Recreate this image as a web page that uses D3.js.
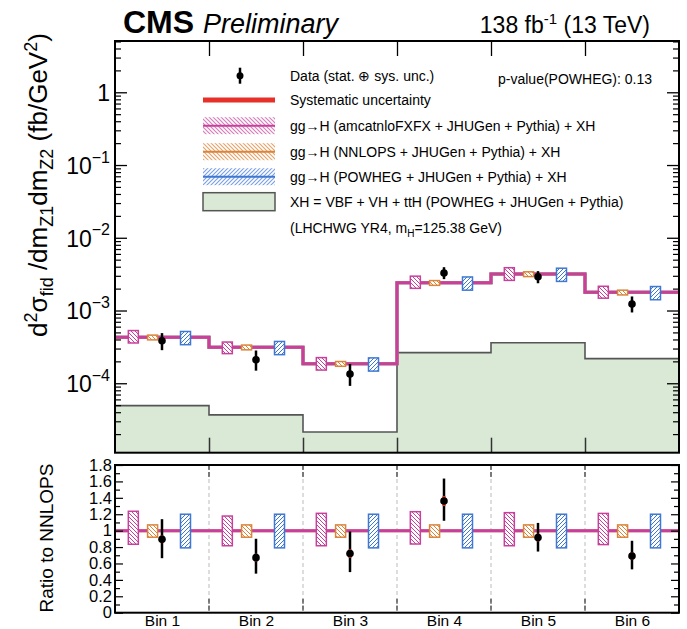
<!DOCTYPE html>
<html><head><meta charset="utf-8">
<script src="https://cdn.jsdelivr.net/npm/d3@7"></script>
<style>
body{margin:0;background:#fff}
svg{font-family:"Liberation Sans",Arial,Helvetica,sans-serif}
</style>
</head><body>
<svg id="chart" width="687" height="629"></svg>
<script>
// Bin labels
const bins = ["Bin 1", "Bin 2", "Bin 3", "Bin 4", "Bin 5", "Bin 6"];
// gg->H (NNLOPS) + XH prediction, fb/GeV^2
const nnlops = [4.29e-4, 3.13e-4, 1.86e-4, 2.41e-3, 3.18e-3, 1.78e-3];
// other generators relative to NNLOPS
const amcRatio = [1.0, 1.0, 1.0, 1.0, 1.0, 1.0];
const powhegRatio = [1.0, 1.0, 1.0, 1.0, 1.0, 1.0];
// relative theory uncertainties
const amcUp = [1.236, 1.178, 1.211, 1.231, 1.219, 1.21];
const amcDown = [0.834, 0.816, 0.816, 0.837, 0.816, 0.83];
const nnlopsUp = [1.07, 1.07, 1.07, 1.07, 1.07, 1.07];
const nnlopsDown = [0.92, 0.92, 0.92, 0.92, 0.92, 0.92];
const powhegUp = [1.20, 1.20, 1.20, 1.20, 1.20, 1.20];
const powhegDown = [0.79, 0.79, 0.79, 0.79, 0.79, 0.79];
// XH = VBF + VH + ttH
const xh = [4.92e-5, 3.67e-5, 2.14e-5, 2.64e-4, 3.61e-4, 2.18e-4];
// measured data
const data = [3.84e-4, 2.10e-4, 1.34e-4, 3.28e-3, 2.91e-3, 1.23e-3];
const dataErrUp = [1.05e-4, 0.72e-4, 0.50e-4, 0.66e-3, 0.57e-3, 0.33e-3];
const dataErrDown = [0.99e-4, 0.61e-4, 0.42e-4, 0.58e-3, 0.54e-3, 0.29e-3];
const dataSys = [0.20e-4, 0.15e-4, 0.10e-4, 0.15e-3, 0.15e-3, 0.08e-3];
// axis ticks
const yMajor = [1e-4, 1e-3, 1e-2, 1e-1, 1];
const yMajorLabels = [["10", "\u22124"], ["10", "\u22123"], ["10", "\u22122"], ["10", "\u22121"], ["1", ""]];
const ratioTicks = [0, 0.2, 0.4, 0.6, 0.8, 1, 1.2, 1.4, 1.6, 1.8];
const ratioLabels = ["0", "0.2", "0.4", "0.6", "0.8", "1", "1.2", "1.4", "1.6", "1.8"];

const svg = d3.select("#chart");
const L = 115, R = 679, T1 = 41, B1 = 452.7, T2 = 465, B2 = 612.7;

const x = d3.scaleLinear().domain([0, 6]).range([L, R]);
const y = d3.scaleLog().domain([1.11e-5, 5.07]).range([B1, T1]);
const yr = d3.scaleLinear().domain([0, 1.8]).range([B2, T2]);

const C = {
  amc: "#c7419c", amcL: "#d77ebd",
  nn: "#d9853b", nnL: "#e2a66f",
  pw: "#3f78d0", pwL: "#7ca2e0",
  red: "#e7302a", xhFill: "#d9e9d6", xhLine: "#555"
};

// hatch patterns
const defs = svg.append("defs");
function hatch(id, color, dir, w) {
  const p = defs.append("pattern").attr("id", id).attr("patternUnits", "userSpaceOnUse")
    .attr("width", 4).attr("height", 4);
  p.append("rect").attr("width", 4).attr("height", 4).attr("fill", "#fff");
  const d = dir === "\\" ? "M-1,-1L5,5M-1,3L1,5M3,-1L5,1" : "M-1,5L5,-1M-1,1L1,-1M3,5L5,3";
  p.append("path").attr("d", d).attr("stroke", color).attr("stroke-width", w);
}
hatch("hAmc", C.amc, "\\", 1);
hatch("hNn", C.nn, "\\", 1);
hatch("hPw", C.pw, "/", 1);
hatch("hAmcL", C.amcL, "\\", 1.2);
hatch("hNnL", C.nnL, "\\", 1.2);
hatch("hPwL", C.pwL, "/", 1.2);

const idx = d3.range(6);

// ---------- upper panel ----------
const upper = svg.append("g");
// XH filled histogram
const xhPts = [];
idx.forEach(i => { xhPts.push([x(i), y(xh[i])]); xhPts.push([x(i + 1), y(xh[i])]); });
const areaPath = "M" + x(0) + "," + B1 + "L" + xhPts.map(p => p.join(",")).join("L") + "L" + x(6) + "," + B1 + "Z";
upper.append("path").attr("d", areaPath).attr("fill", C.xhFill);
upper.append("path").attr("d", "M" + x(0) + "," + y(xh[0]) + "L" + xhPts.map(p => p.join(",")).join("L") + "L" + x(6) + "," + B1)
  .attr("fill", "none").attr("stroke", C.xhLine).attr("stroke-width", 1.6);

function stepPath(vals) {
  let pts = [];
  idx.forEach(i => { pts.push([x(i), y(vals[i])]); pts.push([x(i + 1), y(vals[i])]); });
  return "M" + pts.map(p => p.join(",")).join("L");
}
upper.append("path").attr("d", stepPath(idx.map(i => nnlops[i] * powhegRatio[i]))).attr("fill", "none").attr("stroke", C.pw).attr("stroke-width", 3);
upper.append("path").attr("d", stepPath(nnlops)).attr("fill", "none").attr("stroke", C.nn).attr("stroke-width", 3);
upper.append("path").attr("d", stepPath(idx.map(i => nnlops[i] * amcRatio[i]))).attr("fill", "none").attr("stroke", C.amc).attr("stroke-width", 3);

const boxW = 10;
const gens = [
  {off: 0.195, ratio: amcRatio, up: amcUp, dn: amcDown, col: C.amc, pat: "hAmc"},
  {off: 0.40, ratio: nnlops.map(() => 1), up: nnlopsUp, dn: nnlopsDown, col: C.nn, pat: "hNn"},
  {off: 0.75, ratio: powhegRatio, up: powhegUp, dn: powhegDown, col: C.pw, pat: "hPw"}
];
gens.forEach(g => {
  idx.forEach(i => {
    const c = nnlops[i] * g.ratio[i];
    const y0 = y(c * g.up[i]), y1 = y(c * g.dn[i]);
    upper.append("rect").attr("x", x(i + g.off) - boxW / 2).attr("y", y0).attr("width", boxW).attr("height", y1 - y0)
      .attr("fill", "url(#" + g.pat + ")").attr("stroke", g.col).attr("stroke-width", 1.5);
  });
});

// data points
idx.forEach(i => {
  const cx = x(i + 0.5);
  upper.append("line").attr("x1", cx).attr("x2", cx).attr("y1", y(data[i] + dataErrUp[i])).attr("y2", y(data[i] - dataErrDown[i]))
    .attr("stroke", "#000").attr("stroke-width", 2.5);
  upper.append("line").attr("x1", cx).attr("x2", cx).attr("y1", y(data[i] + dataSys[i])).attr("y2", y(data[i] - dataSys[i]))
    .attr("stroke", C.red).attr("stroke-width", 2.5);
  upper.append("circle").attr("cx", cx).attr("cy", y(data[i])).attr("r", 3.8).attr("fill", "#000");
});

// axes of the upper panel
const minor = [];
for (let e = -5; e <= 0; e++) for (let m = 2; m <= 9; m++) { const v = m * Math.pow(10, e); if (v > y.domain()[0] && v < y.domain()[1]) minor.push(v); }
const axL = upper.append("g").attr("transform", `translate(${L},0)`)
  .call(d3.axisLeft(y).tickValues(yMajor).tickSizeInner(-12).tickSizeOuter(0).tickPadding(5).tickFormat(""));
axL.select(".domain").remove();
axL.selectAll(".tick line").attr("stroke-width", 1.3);
axL.selectAll(".tick text").each(function (d, k) {
  const t = d3.select(this).attr("font-size", 23).attr("fill", "#000").attr("dy", "0.36em");
  const lab = yMajorLabels[k];
  t.append("tspan").text(lab[0]);
  if (lab[1]) t.append("tspan").attr("font-size", 16).attr("dy", "-0.7em").text(lab[1]);
});
upper.append("g").attr("transform", `translate(${L},0)`)
  .call(d3.axisLeft(y).tickValues(minor).tickSizeInner(-6).tickSizeOuter(0).tickFormat(""))
  .call(g => g.select(".domain").remove()).selectAll("line").attr("stroke-width", 1.2);
upper.append("g").attr("transform", `translate(${R},0)`)
  .call(d3.axisRight(y).tickValues(yMajor).tickSizeInner(-12).tickSizeOuter(0).tickFormat(""))
  .call(g => g.select(".domain").remove()).selectAll("line").attr("stroke-width", 1.3);
upper.append("g").attr("transform", `translate(${R},0)`)
  .call(d3.axisRight(y).tickValues(minor).tickSizeInner(-6).tickSizeOuter(0).tickFormat(""))
  .call(g => g.select(".domain").remove()).selectAll("line").attr("stroke-width", 1.2);
// bin-edge ticks
const edges = [1, 2, 3, 4, 5];
upper.append("g").attr("transform", `translate(0,${T1})`)
  .call(d3.axisTop(x).tickValues(edges).tickSizeInner(-15).tickSizeOuter(0).tickFormat(""))
  .call(g => g.select(".domain").remove()).selectAll("line").attr("stroke-width", 1.3);
upper.append("g").attr("transform", `translate(0,${B1})`)
  .call(d3.axisBottom(x).tickValues(edges).tickSizeInner(-15).tickSizeOuter(0).tickFormat(""))
  .call(g => g.select(".domain").remove()).selectAll("line").attr("stroke", "#333").attr("stroke-width", 1.5);
upper.append("rect").attr("x", L).attr("y", T1).attr("width", R - L).attr("height", B1 - T1)
  .attr("fill", "none").attr("stroke", "#000").attr("stroke-width", 2);

// legend
const lg = svg.append("g").attr("font-size", 14).attr("fill", "#000");
const lx0 = 203, lx1 = 275, tx = 290;
const rows = [75.7, 100, 125.7, 151.7, 176.7, 201.7, 227.7];
const lc = (lx0 + lx1) / 2 + 1;
lg.append("line").attr("x1", lc).attr("x2", lc).attr("y1", rows[0] - 8).attr("y2", rows[0] + 8).attr("stroke", "#000").attr("stroke-width", 2.5);
lg.append("circle").attr("cx", lc).attr("cy", rows[0]).attr("r", 3.5);
lg.append("line").attr("x1", lx0).attr("x2", lx1).attr("y1", rows[1]).attr("y2", rows[1]).attr("stroke", C.red).attr("stroke-width", 5);
[["hAmcL", C.amc], ["hNnL", C.nn], ["hPwL", C.pw]].forEach((p, k) => {
  const cy = rows[2 + k];
  lg.append("rect").attr("x", lx0).attr("y", cy - 8.5).attr("width", lx1 - lx0).attr("height", 17).attr("fill", "url(#" + p[0] + ")");
  lg.append("line").attr("x1", lx0).attr("x2", lx1).attr("y1", cy).attr("y2", cy).attr("stroke", p[1]).attr("stroke-width", 2);
});
lg.append("rect").attr("x", lx0).attr("y", rows[5] - 9).attr("width", lx1 - lx0).attr("height", 18)
  .attr("fill", C.xhFill).attr("stroke", C.xhLine).attr("stroke-width", 1.5);
const texts = [
  "Data (stat. \u2295 sys. unc.)",
  "Systematic uncertainty",
  "gg\u2192H (amcatnloFXFX + JHUGen + Pythia) + XH",
  "gg\u2192H (NNLOPS + JHUGen + Pythia) + XH",
  "gg\u2192H (POWHEG + JHUGen + Pythia) + XH",
  "XH = VBF + VH + ttH (POWHEG + JHUGen + Pythia)"
];
texts.forEach((t, k) => lg.append("text").attr("x", tx).attr("y", rows[k] + 5).text(t));
const lt = lg.append("text").attr("x", tx).attr("y", rows[6] + 5);
lt.append("tspan").text("(LHCHWG YR4, m");
lt.append("tspan").attr("font-size", 10).attr("dy", 4).text("H");
lt.append("tspan").attr("dy", -4).text("=125.38 GeV)");
lg.append("text").attr("x", 498).attr("y", 84).text("p-value(POWHEG): 0.13");

// ---------- ratio panel ----------
const lower = svg.append("g");
edges.forEach(e => {
  lower.append("line").attr("x1", x(e)).attr("x2", x(e)).attr("y1", T2).attr("y2", B2)
    .attr("stroke", "#bbb").attr("stroke-width", 1).attr("stroke-dasharray", "4,3");
  [[T2, T2 + 14], [B2 - 14, B2]].forEach(s => lower.append("line").attr("x1", x(e)).attr("x2", x(e)).attr("y1", s[0]).attr("y2", s[1])
    .attr("stroke", "#444").attr("stroke-width", 1.3).attr("stroke-dasharray", "5,2"));
});
lower.append("line").attr("x1", L).attr("x2", R).attr("y1", yr(1)).attr("y2", yr(1)).attr("stroke", C.nn).attr("stroke-width", 3);
function ratioStep(r) {
  let pts = [];
  idx.forEach(i => { pts.push([x(i), yr(r[i])]); pts.push([x(i + 1), yr(r[i])]); });
  return "M" + pts.map(p => p.join(",")).join("L");
}
lower.append("path").attr("d", ratioStep(amcRatio)).attr("fill", "none").attr("stroke", C.amc).attr("stroke-width", 3);
gens.forEach(g => {
  idx.forEach(i => {
    const c = g.ratio[i];
    const y0 = yr(c * g.up[i]), y1 = yr(c * g.dn[i]);
    lower.append("rect").attr("x", x(i + g.off) - boxW / 2).attr("y", y0).attr("width", boxW).attr("height", y1 - y0)
      .attr("fill", "url(#" + g.pat + ")").attr("stroke", g.col).attr("stroke-width", 1.5);
  });
});
idx.forEach(i => {
  const cx = x(i + 0.5), r = data[i] / nnlops[i];
  lower.append("line").attr("x1", cx).attr("x2", cx).attr("y1", yr((data[i] + dataErrUp[i]) / nnlops[i])).attr("y2", yr((data[i] - dataErrDown[i]) / nnlops[i]))
    .attr("stroke", "#000").attr("stroke-width", 2.5);
  lower.append("line").attr("x1", cx).attr("x2", cx).attr("y1", yr((data[i] + dataSys[i]) / nnlops[i])).attr("y2", yr((data[i] - dataSys[i]) / nnlops[i]))
    .attr("stroke", C.red).attr("stroke-width", 3);
  lower.append("circle").attr("cx", cx).attr("cy", yr(r)).attr("r", 3.8).attr("fill", "#000");
});
const rMinor = d3.range(0.1, 1.8, 0.2);
const rax = lower.append("g").attr("transform", `translate(${L},0)`)
  .call(d3.axisLeft(yr).tickValues(ratioTicks).tickSizeInner(-8).tickSizeOuter(0).tickPadding(3).tickFormat((d, k) => ratioLabels[k]));
rax.select(".domain").remove();
rax.selectAll("text").attr("font-size", 16.5).attr("fill", "#000");
rax.selectAll("line").attr("stroke-width", 1.2);
lower.append("g").attr("transform", `translate(${L},0)`)
  .call(d3.axisLeft(yr).tickValues(rMinor).tickSizeInner(-5).tickSizeOuter(0).tickFormat(""))
  .call(g => g.select(".domain").remove()).selectAll("line").attr("stroke-width", 1.2);
lower.append("g").attr("transform", `translate(${R},0)`)
  .call(d3.axisRight(yr).tickValues(ratioTicks).tickSizeInner(-8).tickSizeOuter(0).tickFormat(""))
  .call(g => g.select(".domain").remove()).selectAll("line").attr("stroke-width", 1.2);
lower.append("g").attr("transform", `translate(${R},0)`)
  .call(d3.axisRight(yr).tickValues(rMinor).tickSizeInner(-5).tickSizeOuter(0).tickFormat(""))
  .call(g => g.select(".domain").remove()).selectAll("line").attr("stroke-width", 1.2);
const bax = lower.append("g").attr("transform", `translate(0,${B2})`)
  .call(d3.axisBottom(x).tickValues(idx.map(i => i + 0.5)).tickSize(0).tickPadding(2).tickFormat((d, k) => bins[k]));
bax.select(".domain").remove();
bax.selectAll("text").attr("font-size", 15.5).attr("fill", "#000");
lower.append("rect").attr("x", L).attr("y", T2).attr("width", R - L).attr("height", B2 - T2)
  .attr("fill", "none").attr("stroke", "#000").attr("stroke-width", 2);

// ---------- titles ----------
svg.append("text").attr("x", 123).attr("y", 33).attr("font-size", 32).attr("font-weight", "bold").text("CMS");
svg.append("text").attr("x", 203).attr("y", 33).attr("font-size", 27).attr("font-style", "italic").text("Preliminary");
const lumi = svg.append("text").attr("x", 650).attr("y", 33).attr("font-size", 23).attr("text-anchor", "end");
lumi.append("tspan").text("138 fb");
lumi.append("tspan").attr("font-size", 15).attr("dy", -9).text("-1");
lumi.append("tspan").attr("dy", 9).text(" (13 TeV)");

const yt = svg.append("text").attr("transform", "translate(47,185) rotate(-90)").attr("text-anchor", "middle").attr("font-size", 26);
yt.append("tspan").text("d");
yt.append("tspan").attr("font-size", 18).attr("dy", -10).text("2");
yt.append("tspan").attr("dy", 10).text("\u03c3");
yt.append("tspan").attr("font-size", 18).attr("dy", 6).text("fid");
yt.append("tspan").attr("dy", -6).text(" /dm");
yt.append("tspan").attr("font-size", 18).attr("dy", 6).text("Z1");
yt.append("tspan").attr("dy", -6).text("dm");
yt.append("tspan").attr("font-size", 18).attr("dy", 6).text("Z2");
yt.append("tspan").attr("dy", -6).text(" (fb/GeV");
yt.append("tspan").attr("font-size", 18).attr("dy", -10).text("2");
yt.append("tspan").attr("dy", 10).text(")");

svg.append("text").attr("transform", "translate(53,538) rotate(-90)").attr("text-anchor", "middle").attr("font-size", 19).text("Ratio to NNLOPS");
</script>
</body></html>
